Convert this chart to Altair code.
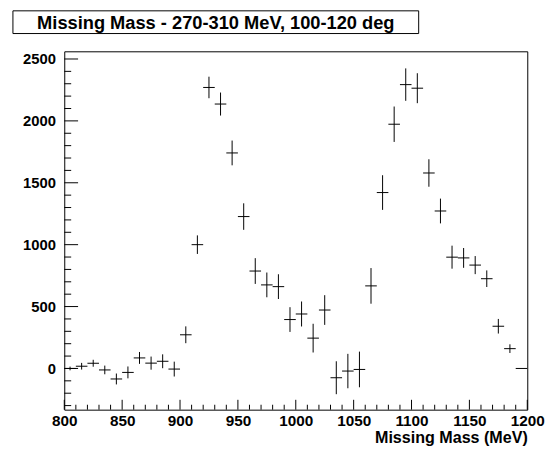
import altair as alt
import pandas as pd

# ---- data ----
bin_centers = [805, 815, 825, 835, 845, 855, 865, 875, 885, 895,
               905, 915, 925, 935, 945, 955, 965, 975, 985, 995,
               1005, 1015, 1025, 1035, 1045, 1055, 1065, 1075, 1085, 1095,
               1105, 1115, 1125, 1135, 1145, 1155, 1165, 1175, 1185, 1195]
counts = [0, 18, 42, -12, -85, -32, 85, 43, 58, -5,
          272, 1000, 2270, 2136, 1741, 1227, 787, 675, 661, 395,
          440, 245, 472, -75, -21, -8, 667, 1421, 1973, 2293,
          2264, 1579, 1272, 899, 893, 835, 725, 341, 160, 0]
errors = [15, 27, 28, 35, 44, 48, 48, 53, 56, 60,
          68, 75, 87, 93, 100, 107, 104, 100, 100, 100,
          101, 116, 120, 133, 139, 144, 144, 140, 143, 131,
          121, 111, 100, 93, 80, 73, 67, 59, 35, 0]
bin_half_width = 5

x_labels = [800, 850, 900, 950, 1000, 1050, 1100, 1150, 1200]
y_labels = [0, 500, 1000, 1500, 2000, 2500]
x_minor = [v for v in range(800, 1201, 10) if v not in x_labels]
y_minor = [v for v in range(-300, 2501, 100) if v not in y_labels]

title_text = "Missing Mass - 270-310 MeV, 100-120 deg"
x_title = "Missing Mass (MeV)"

X_DOMAIN = [800, 1200]
Y_DOMAIN = [-333, 2562]
W, H = 469, 363
FONT = "Liberation Sans"

df = pd.DataFrame({"x": bin_centers, "y": counts, "e": errors})
df["lo"] = df["x"] - bin_half_width
df["hi"] = df["x"] + bin_half_width
df["ylo"] = df["y"] - df["e"]
df["yhi"] = df["y"] + df["e"]

xs = alt.Scale(domain=X_DOMAIN, nice=False, zero=False)
ys = alt.Scale(domain=Y_DOMAIN, nice=False, zero=False)

x_axis = alt.Axis(values=x_labels, format="d", ticks=False, domain=False, grid=False,
                  labelFont=FONT, labelFontWeight="bold", labelFontSize=15.5,
                  labelColor="black", labelPadding=4, labelFlush=False,
                  title=x_title, titleFont=FONT, titleFontWeight="bold",
                  titleFontSize=16.3, titleColor="black",
                  titleAlign="right", titleBaseline="alphabetic",
                  titleX=W, titleY=33)
y_axis = alt.Axis(values=y_labels, format="d", ticks=False, domain=False, grid=False,
                  labelFont=FONT, labelFontWeight="bold", labelFontSize=15,
                  labelColor="black", labelPadding=9, title=None)

vbars = alt.Chart(df).mark_rule(color="black", strokeWidth=1).encode(
    x=alt.X("x:Q", scale=xs, axis=x_axis),
    y=alt.Y("ylo:Q", scale=ys, axis=y_axis),
    y2="yhi:Q",
)
hbars = alt.Chart(df).mark_rule(color="black", strokeWidth=1).encode(
    x=alt.X("lo:Q", scale=xs),
    x2="hi:Q",
    y=alt.Y("y:Q", scale=ys),
)

def xticks(vals, length):
    return alt.Chart(pd.DataFrame({"t": vals})).mark_rule(color="black", strokeWidth=1).encode(
        x=alt.X("t:Q", scale=xs), y=alt.value(H), y2=alt.value(H - length))

def yticks(vals, length):
    return alt.Chart(pd.DataFrame({"t": vals})).mark_rule(color="black", strokeWidth=1).encode(
        y=alt.Y("t:Q", scale=ys), x=alt.value(0), x2=alt.value(length))

one = pd.DataFrame({"k": [0]})
title_box = alt.Chart(one).mark_rect(fill="white", stroke="black", strokeWidth=1, clip=False).encode(
    x=alt.value(-52), x2=alt.value(359), y=alt.value(-41), y2=alt.value(-18))
title_label = alt.Chart(one).mark_text(text=title_text, font=FONT, fontWeight="bold",
                                       fontSize=18.5, color="black", align="center",
                                       baseline="middle", clip=False).encode(
    x=alt.value(153.5), y=alt.value(-29))

chart = alt.layer(
    xticks(x_minor, 5), xticks(x_labels, 10),
    yticks(y_minor, 7), yticks(y_labels, 14),
    vbars, hbars, title_box, title_label,
).properties(
    width=W, height=H,
    padding={"left": 57, "top": 41, "right": 22, "bottom": 40},
    autosize=alt.AutoSizeParams(type="none"),
    background="white",
).configure_view(stroke="black", strokeWidth=1)

chart.save("out.html", embed_options={"renderer": "svg", "actions": False})
